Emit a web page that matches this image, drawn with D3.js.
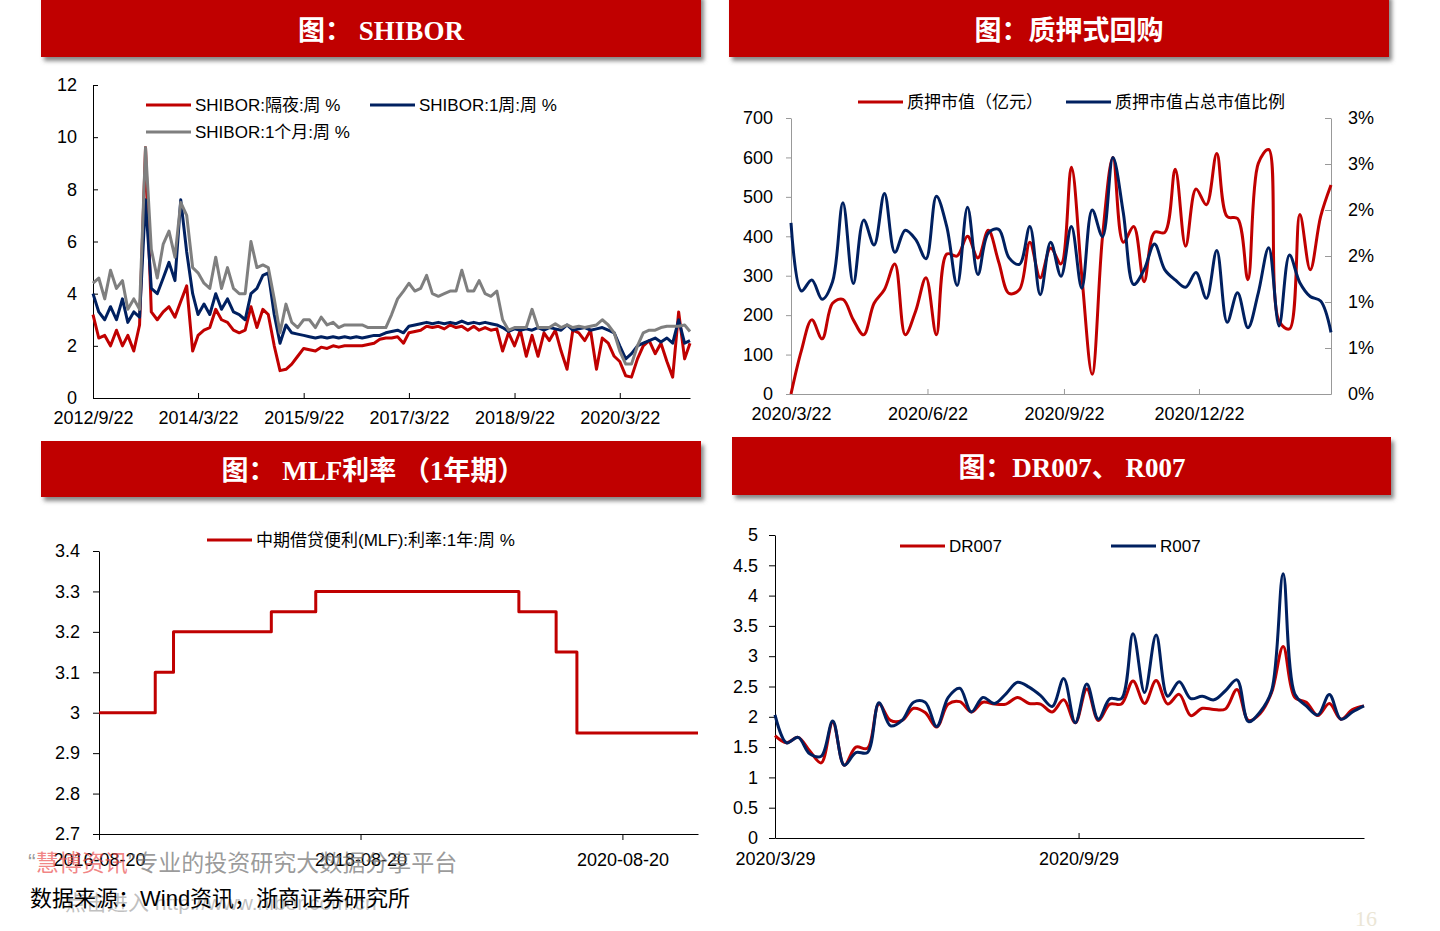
<!DOCTYPE html>
<html>
<head>
<meta charset="utf-8">
<script src="https://cdn.jsdelivr.net/npm/d3@7"></script>
<style>
	body { margin: 0; background: #fff; }
	svg text { font-family: "Liberation Sans", Arial, "Noto Sans CJK SC", sans-serif; }
</style>
</head>
<body>
<svg id="page" width="1440" height="931"></svg>
<script>
// ---------- SHIBOR, one reading per month from 2012/9/22 ----------
const shiborStart = "2012-09-22";
const shiborEnd = "2021-03-22";
const shiborOvernight = [
	3.2, 2.3, 2.4, 2.0,
	2.6, 2.0, 2.4, 1.8, 2.8, 9.6, 3.3, 3.0, 3.3, 3.5, 3.1, 3.7,
	4.3, 1.8, 2.4, 2.6, 2.7, 3.4, 3.0, 2.9, 2.6, 2.5, 2.6, 3.5,
	2.7, 3.4, 3.2, 2.0, 1.05, 1.1, 1.3, 1.6, 1.9, 1.85, 1.8, 1.95,
	1.9, 2.0, 1.95, 2.0, 2.0, 2.0, 2.0, 2.05, 2.1, 2.25, 2.3, 2.3,
	2.35, 2.1, 2.5, 2.55, 2.6, 2.75, 2.7, 2.75, 2.65, 2.8, 2.7, 2.75,
	2.6, 2.75, 2.6, 2.7, 2.6, 2.65, 1.8, 2.5, 2.0, 2.6, 1.6, 2.4,
	1.6, 2.5, 2.2, 2.6, 1.8, 1.1, 2.6, 2.5, 2.2, 2.6, 1.1, 2.3,
	2.1, 1.6, 1.4, 0.85, 0.8, 1.5, 2.0, 2.2, 1.7, 2.1, 1.4, 0.8,
	3.3, 1.5, 2.1
];
const shibor1W = [
	4.0, 3.3, 3.0, 3.5,
	3.0, 3.8, 2.9, 3.3, 3.1, 7.6, 4.2, 4.0, 4.6, 5.2, 4.5, 7.6,
	5.6, 4.0, 3.2, 3.6, 3.2, 4.0, 3.4, 3.8, 3.3, 3.2, 3.0, 4.0,
	4.2, 4.7, 4.8, 3.2, 2.1, 2.8, 2.5, 2.45, 2.4, 2.35, 2.3, 2.35,
	2.3, 2.35, 2.3, 2.35, 2.3, 2.35, 2.3, 2.35, 2.4, 2.4, 2.5, 2.55,
	2.6, 2.5, 2.75, 2.8, 2.85, 2.9, 2.85, 2.9, 2.85, 2.9, 2.85, 2.95,
	2.85, 2.9, 2.85, 2.9, 2.85, 2.8, 2.7, 2.55, 2.65, 2.6, 2.65, 2.6,
	2.7, 2.6, 2.7, 2.65, 2.6, 2.8, 2.6, 2.65, 2.7, 2.6, 2.65, 2.7,
	2.6, 2.5, 2.0, 1.5, 1.7, 2.0, 2.1, 2.2, 2.3, 2.15, 2.3, 2.1,
	3.0, 2.1, 2.2
];
const shibor1M = [
	4.4, 4.6, 3.8, 4.9,
	4.2, 4.5, 3.4, 3.8, 3.4, 9.6, 5.7, 4.6, 5.9, 6.4, 5.4, 7.5,
	7.0, 5.0, 4.8, 4.4, 4.2, 5.4, 4.2, 5.0, 4.2, 4.0, 4.0, 6.0,
	5.0, 5.1, 5.0, 3.8, 2.5, 3.6, 2.9, 2.7, 3.0, 3.0, 2.7, 3.1,
	2.8, 2.9, 2.7, 2.8, 2.8, 2.8, 2.8, 2.7, 2.7, 2.7, 2.7, 3.2,
	3.8, 4.1, 4.4, 4.1, 4.2, 4.7, 4.0, 3.9, 4.0, 4.1, 4.1, 4.9,
	4.1, 4.1, 4.5, 4.0, 3.9, 4.1, 3.0, 2.6, 2.7, 2.7, 2.7, 3.4,
	2.7, 2.7, 2.7, 2.85, 2.7, 2.8, 2.7, 2.75, 2.7, 2.75, 2.8, 3.0,
	2.8, 2.5, 1.8, 1.3, 1.3, 2.0, 2.5, 2.6, 2.6, 2.7, 2.75, 2.75,
	2.75, 2.8, 2.55
];
const shiborTicks = ["2012-09-22", "2014-03-22", "2015-09-22", "2017-03-22", "2018-09-22", "2020-03-22"];
const shiborTickLabels = ["2012/9/22", "2014/3/22", "2015/9/22", "2017/3/22", "2018/9/22", "2020/3/22"];

// ---------- 质押式回购, weekly from 2020/3/22 ----------
const pledgeStart = "2020-03-22";
const pledgeValue = [
	0, 110, 188, 140, 230, 240, 188, 150, 230, 265, 330, 150, 210, 295, 150, 355, 350, 400,
	345, 415, 335, 255, 265, 385, 295, 370, 330, 575, 300, 50, 400, 600, 385, 425, 285, 410,
	410, 570, 375, 520, 480, 610, 450, 445, 290, 585, 620, 185, 165, 455, 315, 450, 530
];
const pledgeRatioPct = [
	1.86, 1.12, 1.24, 1.03, 1.22, 2.08, 1.20, 1.89, 1.62, 2.18, 1.54, 1.78, 1.68, 1.47, 2.15, 1.82, 1.18, 2.03,
	1.30, 1.75, 1.79, 1.48, 1.41, 1.82, 1.08, 1.65, 1.28, 1.82, 1.15, 2.00, 1.71, 2.57, 1.97, 1.19, 1.35, 1.63,
	1.35, 1.24, 1.16, 1.32, 1.04, 1.56, 0.78, 1.10, 0.72, 1.10, 1.59, 0.74, 1.51, 1.21, 1.06, 1.01, 0.67
];
const pledgeTicks = ["2020-03-22", "2020-06-22", "2020-09-22", "2020-12-22"];
const pledgeTickLabels = ["2020/3/22", "2020/6/22", "2020/9/22", "2020/12/22"];
const pledgeRightTicks = [0, 0.5, 1, 1.5, 2, 2.5, 3];
const pledgeRightLabels = ["0%", "1%", "1%", "2%", "2%", "3%", "3%"];

// ---------- MLF 1年期, change dates ----------
const mlfDates = ["2016-08-20", "2017-01-24", "2017-03-16", "2017-12-14", "2018-04-17", "2019-11-05", "2020-02-17", "2020-04-15", "2021-03-19"];
const mlfRates = [3.0, 3.1, 3.2, 3.25, 3.3, 3.25, 3.15, 2.95, 2.95];
const mlfTicks = ["2016-08-20", "2018-08-20", "2020-08-20"];
const mlfYTicks = [2.7, 2.8, 2.9, 3.0, 3.1, 3.2, 3.3, 3.4];

// ---------- DR007 / R007, weekly from 2020/3/29 ----------
const repoStart = "2020-03-29";
const dr007 = [
	1.69, 1.57, 1.66, 1.44, 1.24, 1.91, 1.20, 1.50, 1.48, 2.21, 1.94, 1.94, 2.14, 2.07, 1.83, 2.21, 2.25, 2.08,
	2.24, 2.21, 2.21, 2.32, 2.22, 2.21, 2.08, 2.28, 1.90, 2.46, 1.94, 2.21, 2.21, 2.59, 2.22, 2.60, 2.21, 2.37,
	2.02, 2.14, 2.12, 2.13, 2.45, 1.94, 2.05, 2.40, 3.16, 2.32, 2.24, 2.02, 2.22, 1.96, 2.12, 2.18
];
const r007 = [
	2.03, 1.57, 1.66, 1.39, 1.35, 1.93, 1.20, 1.41, 1.41, 2.23, 1.85, 1.94, 2.24, 2.24, 1.84, 2.32, 2.47, 2.08,
	2.32, 2.22, 2.38, 2.57, 2.49, 2.35, 2.17, 2.63, 1.90, 2.54, 1.96, 2.30, 2.30, 3.37, 2.40, 3.35, 2.34, 2.58,
	2.30, 2.34, 2.28, 2.43, 2.61, 1.92, 2.08, 2.43, 4.36, 2.38, 2.18, 2.03, 2.37, 1.96, 2.08, 2.18
];
const repoTicks = ["2020-03-29", "2020-09-29"];
const repoTickLabels = ["2020/3/29", "2020/9/29"];

const RED = "#C00000";
const NAVY = "#002060";
const GREY = "#7F7F7F";

const parse = d3.timeParse("%Y-%m-%d");
const svg = d3.select("#page");

// drop shadow for the red title bars
const defs = svg.append("defs");
defs.append("filter")
	.attr("id", "shadow")
	.attr("x", "-5%").attr("y", "-20%").attr("width", "110%").attr("height", "150%")
	.append("feDropShadow")
	.attr("dx", 3).attr("dy", 4).attr("stdDeviation", 2)
	.attr("flood-color", "#555").attr("flood-opacity", 0.7);

function titleBar(x, y, w, h, cx, baseline, label) {
	svg.append("rect")
		.attr("x", x).attr("y", y).attr("width", w).attr("height", h)
		.attr("fill", RED).attr("filter", "url(#shadow)");
	svg.append("text")
		.attr("x", cx).attr("y", baseline)
		.attr("text-anchor", "middle")
		.attr("fill", "#fff")
		.attr("font-size", 27).attr("font-weight", "bold")
		.style("font-family", '"Liberation Serif", "Times New Roman", "Noto Sans CJK SC", serif')
		.text(label);
}

function styleAxis(g, color) {
	g.attr("font-size", 18).attr("font-family", null);
	g.select(".domain").attr("stroke", color);
	g.selectAll(".tick line").attr("stroke", color);
	g.selectAll(".tick text").attr("fill", "#000");
}

function legendItem(x, y, color, label) {
	svg.append("line")
		.attr("x1", x).attr("x2", x + 45).attr("y1", y).attr("y2", y)
		.attr("stroke", color).attr("stroke-width", 3);
	svg.append("text")
		.attr("x", x + 49).attr("y", y).attr("dy", "0.35em")
		.attr("font-size", 17).attr("fill", "#000")
		.text(label);
}

function drawLine(data, x, y, color, curve, width = 2.5) {
	svg.append("path")
		.datum(data)
		.attr("fill", "none")
		.attr("stroke", color)
		.attr("stroke-width", width)
		.attr("stroke-linejoin", "round")
		.attr("d", d3.line().x((d) => x(d[0])).y((d) => y(d[1])).curve(curve));
}

// ================= 图：SHIBOR =================
titleBar(41, -6, 660, 63, 381, 40, "图： SHIBOR");
{
	const dates = shiborOvernight.map((_, i) => d3.timeMonth.offset(parse(shiborStart), i));
	const x = d3.scaleTime().domain([parse(shiborStart), parse(shiborEnd)]).range([93, 690]);
	const y = d3.scaleLinear().domain([0, 12]).range([398, 85]);

	const gy = svg.append("g").attr("transform", "translate(93,0)")
		.call(d3.axisLeft(y).tickValues(d3.range(0, 13, 2)).tickSizeInner(-5).tickSizeOuter(0).tickPadding(16));
	styleAxis(gy, "#000");
	const gx = svg.append("g").attr("transform", "translate(0,398)")
		.call(d3.axisBottom(x).tickValues(shiborTicks.map(parse)).tickSizeInner(-5).tickSizeOuter(0).tickPadding(13)
			.tickFormat((d, i) => shiborTickLabels[i]));
	styleAxis(gx, "#000");

	drawLine(d3.zip(dates, shiborOvernight), x, y, RED, d3.curveLinear, 3);
	drawLine(d3.zip(dates, shibor1W), x, y, NAVY, d3.curveLinear, 3);
	drawLine(d3.zip(dates, shibor1M), x, y, GREY, d3.curveLinear, 3);

	legendItem(146, 105, RED, "SHIBOR:隔夜:周 %");
	legendItem(370, 105, NAVY, "SHIBOR:1周:周 %");
	legendItem(146, 132, GREY, "SHIBOR:1个月:周 %");
}

// ================= 图：质押式回购 =================
titleBar(729, -6, 660, 63, 1069, 40, "图：质押式回购");
{
	const dates = pledgeValue.map((_, i) => d3.timeWeek.offset(parse(pledgeStart), i));
	const x = d3.scaleTime().domain(d3.extent(dates)).range([791, 1331]);
	const yL = d3.scaleLinear().domain([0, 700]).range([394, 118]);
	const yR = d3.scaleLinear().domain([0, 3]).range([394, 118]);

	const gl = svg.append("g").attr("transform", "translate(791,0)")
		.call(d3.axisLeft(yL).tickValues(d3.range(0, 701, 100)).tickSizeInner(5).tickSizeOuter(0).tickPadding(13));
	styleAxis(gl, "#999");
	const gr = svg.append("g").attr("transform", "translate(1331,0)")
		.call(d3.axisRight(yR).tickValues(pledgeRightTicks).tickSizeInner(-6).tickSizeOuter(0).tickPadding(17)
			.tickFormat((d, i) => pledgeRightLabels[i]));
	styleAxis(gr, "#999");
	const gx = svg.append("g").attr("transform", "translate(0,394)")
		.call(d3.axisBottom(x).tickValues(pledgeTicks.map(parse)).tickSizeInner(-5).tickSizeOuter(0).tickPadding(13)
			.tickFormat((d, i) => pledgeTickLabels[i]));
	styleAxis(gx, "#999");

	drawLine(d3.zip(dates, pledgeValue), x, yL, RED, d3.curveCatmullRom, 3);
	drawLine(d3.zip(dates, pledgeRatioPct), x, yR, NAVY, d3.curveCatmullRom, 3);

	legendItem(858, 102, RED, "质押市值（亿元）");
	legendItem(1066, 102, NAVY, "质押市值占总市值比例");
}

// ================= 图：MLF利率 =================
titleBar(41, 441, 660, 56, 373, 480, "图： MLF利率 （1年期）");
{
	const dates = mlfDates.map(parse);
	const x = d3.scaleTime().domain(d3.extent(dates)).range([99, 698]);
	const y = d3.scaleLinear().domain([2.7, 3.4]).range([834, 551]);

	const gy = svg.append("g").attr("transform", "translate(99,0)")
		.call(d3.axisLeft(y).tickValues(mlfYTicks).tickSizeInner(6).tickSizeOuter(0).tickPadding(13)
			.tickFormat(d3.format("~g")));
	styleAxis(gy, "#000");
	const gx = svg.append("g").attr("transform", "translate(0,834)")
		.call(d3.axisBottom(x).tickValues(mlfTicks.map(parse)).tickSizeInner(6).tickSizeOuter(0).tickPadding(13)
			.tickFormat(d3.timeFormat("%Y-%m-%d")));
	styleAxis(gx, "#000");

	drawLine(d3.zip(dates, mlfRates), x, y, RED, d3.curveStepAfter, 3);

	legendItem(207, 540, RED, "中期借贷便利(MLF):利率:1年:周 %");
}

// ================= 图：DR007、R007 =================
titleBar(732, 437, 659, 58, 1072, 477, "图：DR007、 R007");
{
	const dates = dr007.map((_, i) => d3.timeWeek.offset(parse(repoStart), i));
	const x = d3.scaleTime().domain(d3.extent(dates)).range([775, 1364]);
	const y = d3.scaleLinear().domain([0, 5]).range([838, 535]);

	const gy = svg.append("g").attr("transform", "translate(775,0)")
		.call(d3.axisLeft(y).tickValues(d3.range(0, 5.01, 0.5)).tickSizeInner(6).tickSizeOuter(0).tickPadding(11)
			.tickFormat(d3.format("~g")));
	styleAxis(gy, "#000");
	const gx = svg.append("g").attr("transform", "translate(0,838)")
		.call(d3.axisBottom(x).tickValues(repoTicks.map(parse)).tickSizeInner(-5).tickSizeOuter(0).tickPadding(14)
			.tickFormat((d, i) => repoTickLabels[i]));
	styleAxis(gx, "#000");

	drawLine(d3.zip(dates, dr007), x, y, RED, d3.curveCatmullRom, 3);
	drawLine(d3.zip(dates, r007), x, y, NAVY, d3.curveCatmullRom, 3);

	legendItem(900, 546, RED, "DR007");
	legendItem(1111, 546, NAVY, "R007");
}

// ---------- watermark, source, page number ----------
const wm = svg.append("text").attr("x", 28).attr("y", 871).attr("font-size", 23);
wm.append("tspan").attr("fill", "rgba(110,110,110,0.7)").text("“");
wm.append("tspan").attr("fill", "rgba(235,80,80,0.7)").text("慧博资讯");
wm.append("tspan").attr("fill", "rgba(110,110,110,0.7)").text("”专业的投资研究大数据分享平台");

svg.append("text")
	.attr("x", 65).attr("y", 910)
	.attr("font-size", 21)
	.attr("fill", "rgba(130,130,130,0.5)")
	.text("点击进入 http://www.hibor.com.cn");

svg.append("text")
	.attr("x", 30).attr("y", 906)
	.attr("font-size", 22)
	.attr("fill", "#000")
	.text("数据来源：Wind资讯，浙商证券研究所");

svg.append("text")
	.attr("x", 1355).attr("y", 926)
	.attr("font-size", 22)
	.attr("fill", "#ebe6d6")
	.style("font-family", '"Liberation Serif", serif')
	.text("16");
</script>
</body>
</html>
